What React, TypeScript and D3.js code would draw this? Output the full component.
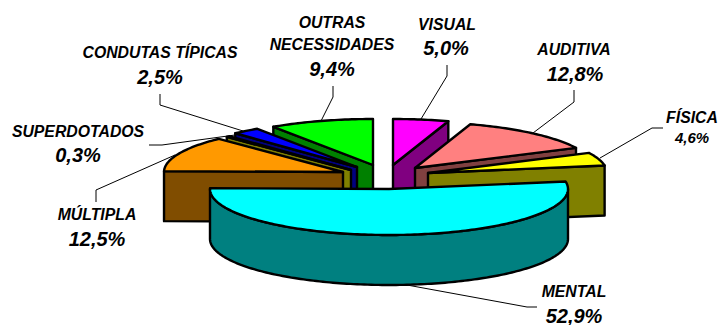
import React from "react";
import * as d3 from "d3";

// Share of enrolments per special-needs category, clockwise from twelve o'clock.
const categories = ["VISUAL", "AUDITIVA", "FÍSICA", "MENTAL", "MÚLTIPLA", "SUPERDOTADOS", "CONDUTAS TÍPICAS", "OUTRAS NECESSIDADES"];
const shares = [5.0, 12.8, 4.6, 52.9, 12.5, 0.3, 2.5, 9.4];
const shareLabels = ["5,0%", "12,8%", "4,6%", "52,9%", "12,5%", "0,3%", "2,5%", "9,4%"];

// Top face and cut-wall colours, one pair per category.
const topColors = ["#ff00ff", "#ff8080", "#ffff00", "#00ffff", "#ff9900", "#ffff00", "#0000ff", "#00ff00"];
const wallColors = ["#800080", "#804040", "#808000", "#008080", "#804d00", "#808000", "#000080", "#008000"];

// Where each exploded slice has its apex on the canvas.
const apexX = [393, 415, 428, 389, 343, 351, 357, 373];
const apexY = [165, 168, 173, 189, 172, 170, 167, 165];

// Painter's order: back slices first, the big front slice last.
const paintOrder = [0, 7, 6, 5, 4, 1, 2, 3];

// Label lines and their anchor positions.
const labelLines = [["VISUAL"], ["AUDITIVA"], ["FÍSICA"], ["MENTAL"], ["MÚLTIPLA"], ["SUPERDOTADOS"], ["CONDUTAS TÍPICAS"], ["OUTRAS", "NECESSIDADES"]];
const labelX = [447, 574, 692, 574, 97, 78, 160, 332];
const valueX = [446, 575, 692, 574, 97, 78, 160, 332];
const nameBaseline = [30, 55, 123, 297, 220, 137, 58, 50];
const valueBaseline = [55, 81, 143, 323, 246, 162, 84, 76];
const valueSize = [20, 20, 15, 20, 20, 20, 20, 20];

// Leader polylines from each label to its slice.
const leaders: [number, number][][] = [
  [[447, 65], [447, 76], [421, 119]],
  [[574, 90], [574, 102], [533, 133]],
  [[663, 128], [652, 128], [600, 158]],
  [[537, 307], [527, 307], [407, 285]],
  [[96, 202], [96, 190], [175, 155]],
  [[149, 145], [162, 145], [235, 135]],
  [[160, 94], [160, 105], [243, 131]],
  [[333, 86], [333, 97], [321, 121]],
];

const RX = 179;
const RY = 46;
const DEPTH = 50;
const FONT = "'Liberation Sans', Arial, sans-serif";

const slices = d3.pie<number>().sort(null).value((d) => d)(shares);

// Projects a pie angle (0 at the top, clockwise) onto the flattened rim.
const rimPoint = (i: number, a: number): [number, number] => [
  apexX[i] + RX * Math.sin(a),
  apexY[i] - RY * Math.cos(a),
];

const sampleAngles = (a0: number, a1: number) => {
  const n = Math.max(2, Math.ceil(Math.abs(a1 - a0) / 0.02));
  return d3.range(n + 1).map((k) => a0 + ((a1 - a0) * k) / n);
};

const line = d3.line<[number, number]>().curve(d3.curveLinear);

const topPath = (i: number) => {
  const s = slices[i];
  const apex: [number, number] = [apexX[i], apexY[i]];
  const rim = sampleAngles(s.startAngle, s.endAngle).map((a) => rimPoint(i, a));
  return line([apex, ...rim])! + "Z";
};

// Flat cut wall: the end edge on the right half, the start edge on the left half.
const wallPath = (i: number) => {
  const s = slices[i];
  const mid = (s.startAngle + s.endAngle) / 2;
  const edge = mid < Math.PI ? s.endAngle : s.startAngle;
  const [x, y] = rimPoint(i, edge);
  const pts: [number, number][] = [
    [apexX[i], apexY[i]],
    [x, y],
    [x, y + DEPTH],
    [apexX[i], apexY[i] + DEPTH],
  ];
  return line(pts)! + "Z";
};

// Curved outer rim of a slice that faces the viewer.
const rimPath = (i: number) => {
  const s = slices[i];
  const a0 = Math.max(s.startAngle, Math.PI / 2);
  const a1 = Math.min(s.endAngle, (3 * Math.PI) / 2);
  const upper = sampleAngles(a0, a1).map((a) => rimPoint(i, a));
  const lower = [...upper].reverse().map(([x, y]) => [x, y + DEPTH] as [number, number]);
  return line([...upper, ...lower])! + "Z";
};

const stroke = { stroke: "#000", strokeWidth: 2.4, strokeLinejoin: "round" as const };

export default function App() {
  return (
    <svg
      width={719}
      height={325}
      style={{ position: "absolute", left: 0, top: 0, background: "#fff" }}
      fontFamily={FONT}
      fontWeight="bold"
      fontStyle="italic"
      textAnchor="middle"
    >
      {leaders.map((pts, i) => (
        <path key={i} d={line(pts)!} fill="none" stroke="#000" strokeWidth={1} />
      ))}
      {paintOrder.map((i) => (
        <g key={categories[i]}>
          <path d={i === 3 ? rimPath(i) : wallPath(i)} fill={wallColors[i]} {...stroke} />
          <path d={topPath(i)} fill={topColors[i]} {...stroke} />
        </g>
      ))}
      {categories.map((c, i) => (
        <text key={c} fill="#000">
          {labelLines[i].map((t, k) => (
            <tspan key={t} x={labelX[i]} y={nameBaseline[i] - (labelLines[i].length - 1 - k) * 22} fontSize={15.8}>
              {t}
            </tspan>
          ))}
          <tspan x={valueX[i]} y={valueBaseline[i]} fontSize={valueSize[i]}>{shareLabels[i]}</tspan>
        </text>
      ))}
    </svg>
  );
}
